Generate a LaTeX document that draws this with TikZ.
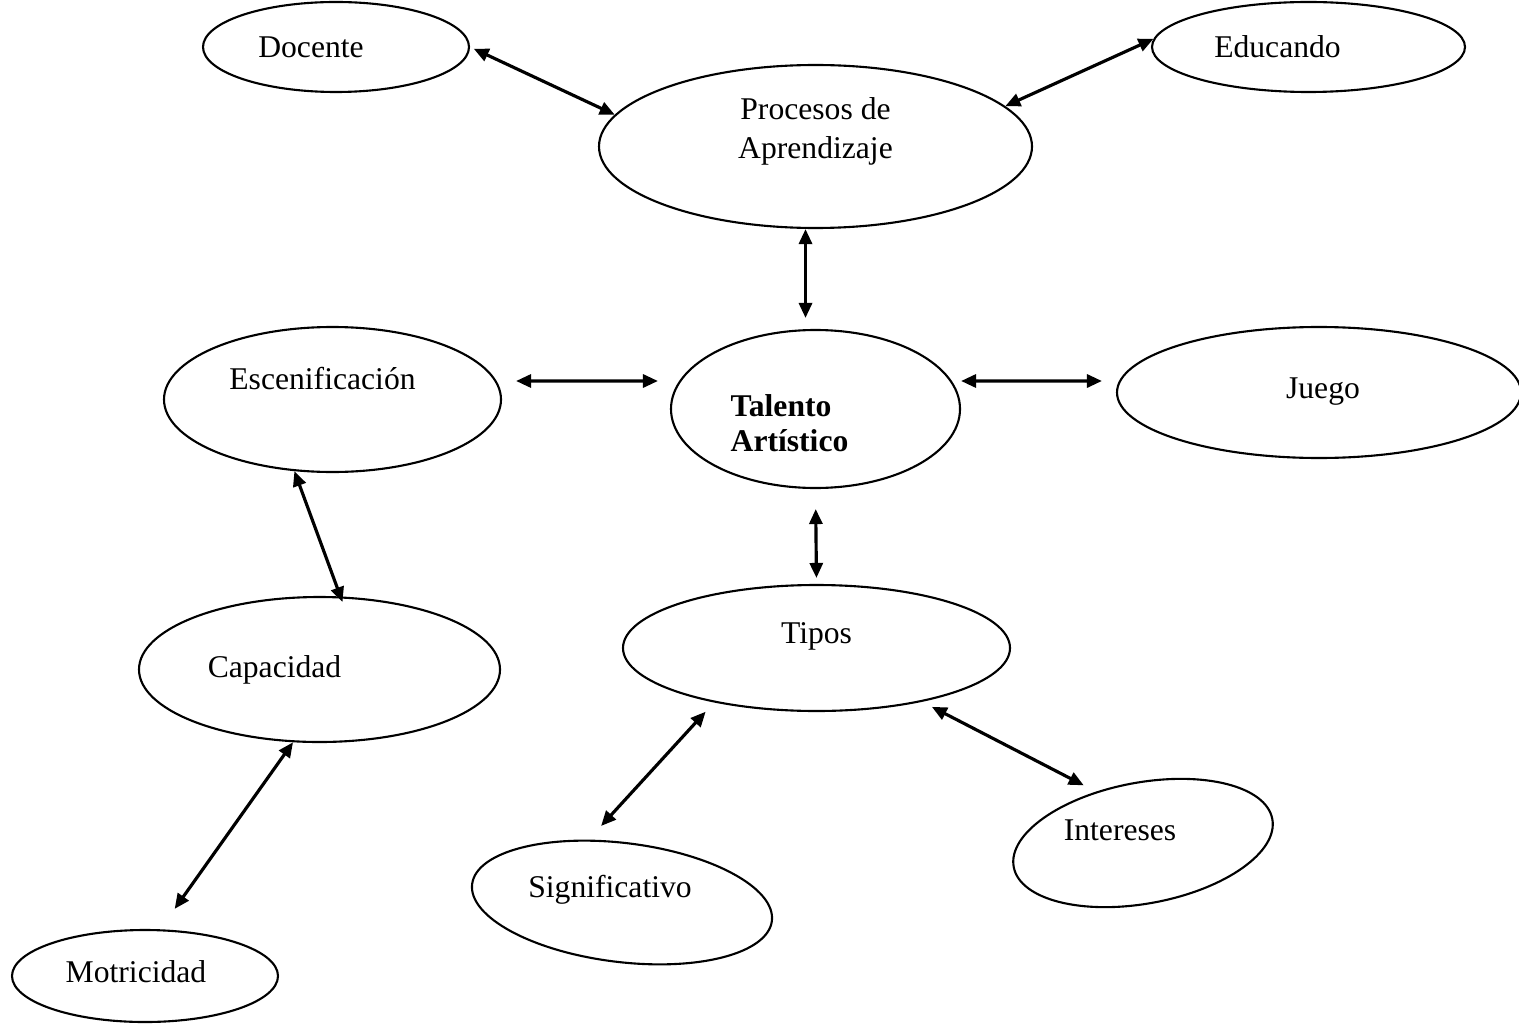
\documentclass[tikz,border=0pt]{standalone}
\usepackage{fontspec}
\setmainfont{Liberation Serif}
\usetikzlibrary{shapes.geometric,arrows.meta}

\begin{document}
\begin{tikzpicture}[
    oval/.style={draw, ellipse, line width=0.6pt, inner sep=0pt},
    txt/.style={font=\fontsize{9}{11}\selectfont, align=center},
    arr/.style={{Triangle[length=1.5mm,width=1.3mm]}-{Triangle[length=1.5mm,width=1.3mm]}, line width=0.9pt}
]
\useasboundingbox (0,0) rectangle (15.19,10.24);
% top row
\node[oval, minimum width=2.66cm, minimum height=0.9cm, label={[txt, xshift=-2.5mm]center:Docente}] (doc) at (3.36,9.77) {};
\node[oval, minimum width=3.13cm, minimum height=0.9cm, label={[txt, xshift=-3.1mm]center:Educando}] (edu) at (13.085,9.77) {};
\node[oval, minimum width=4.33cm, minimum height=1.63cm, label={[txt, yshift=1.5mm]center:Procesos de\\Aprendizaje}] (proc) at (8.155,8.775) {};
% middle row
\node[oval, minimum width=3.37cm, minimum height=1.45cm, label={[txt, xshift=-1mm, yshift=2.1mm]center:Escenificación}] (esc) at (3.325,6.245) {};
\node[oval, minimum width=2.89cm, minimum height=1.58cm, label={[txt, font=\fontsize{9}{10}\selectfont\bfseries, align=left, xshift=-2.6mm, yshift=-1.4mm]center:Talento\\Artístico}] (tal) at (8.155,6.15) {};
\node[oval, minimum width=4.04cm, minimum height=1.31cm, label={[txt, xshift=0.4mm, yshift=0.1mm]center:Juego}] (jue) at (13.19,6.315) {};
% lower part
\node[oval, minimum width=3.61cm, minimum height=1.45cm, label={[txt, xshift=-4.5mm]center:Capacidad}] (cap) at (3.195,3.545) {};
\node[oval, minimum width=3.87cm, minimum height=1.26cm, label={[txt, yshift=1.2mm]center:Tipos}] (tip) at (8.165,3.76) {};
\node[oval, minimum width=2.63cm, minimum height=1.21cm, rotate=10.5, label={[txt, xshift=-2.3mm, yshift=1.3mm]center:Intereses}] (int) at (11.43,1.81) {};
\node[oval, minimum width=3.02cm, minimum height=1.19cm, rotate=-7, label={[txt, xshift=-1.2mm, yshift=1.3mm]center:Significativo}] (sig) at (6.22,1.215) {};
\node[oval, minimum width=2.66cm, minimum height=0.92cm, label={[txt, xshift=-0.9mm, yshift=0.4mm]center:Motricidad}] (mot) at (1.45,0.48) {};

\draw[arr, shorten <=0.4mm] (doc.east) -- (proc.171);
\draw[arr] (edu.177) -- (proc.12);
\draw[arr, shorten >=1.1mm] ([xshift=-1mm]proc.south) -- ([xshift=-1mm]tal.north);
\draw[arr, shorten <=1.4mm, shorten >=1.2mm] ([yshift=1.85mm]esc.east) -- ([yshift=2.8mm]tal.west);
\draw[arr, shorten >=1.4mm] ([yshift=2.8mm]tal.east) -- ([yshift=1.15mm]jue.west);
\draw[arr, shorten <=2mm, shorten >=0.6mm] (tal.south) -- (tip.north);
\draw[arr, shorten >=-0.6mm] (esc.242) -- (cap.74);
\draw[arr, shorten >=2.5mm] (cap.250) -- (mot.72);
\draw[arr, shorten <=1.25mm, shorten >=1.85mm] (tip.208) -- (sig.125);
\draw[arr, shorten <=1.1mm, shorten >=1.37mm] (tip.-27) -- (int.122);
\end{tikzpicture}
\end{document}
